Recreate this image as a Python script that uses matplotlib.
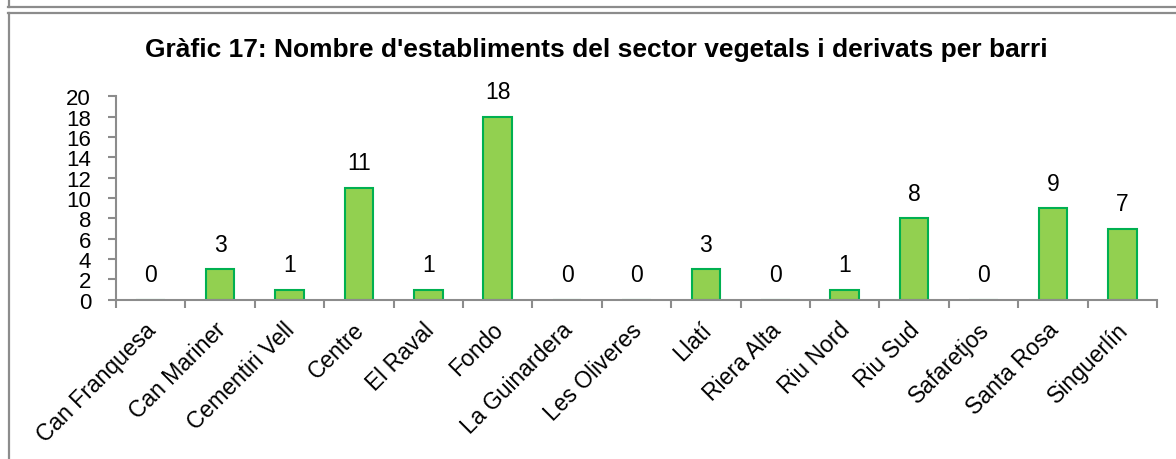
import matplotlib
matplotlib.use("Agg")
import matplotlib.pyplot as plt
from matplotlib.lines import Line2D
import numpy as np

categories = ["Can Franquesa", "Can Mariner", "Cementiri Vell", "Centre", "El Raval",
              "Fondo", "La Guinardera", "Les Oliveres", "Llatí", "Riera Alta",
              "Riu Nord", "Riu Sud", "Safaretjos", "Santa Rosa", "Singuerlín"]
values = [0, 3, 1, 11, 1, 18, 0, 0, 3, 0, 1, 8, 0, 9, 7]
yticks = [0, 2, 4, 6, 8, 10, 12, 14, 16, 18, 20]
title = "Gràfic 17: Nombre d'establiments del sector vegetals i derivats per barri"

plt.rcParams['font.family'] = ['Liberation Sans', 'DejaVu Sans']

W, H = 1176, 460
fig = plt.figure(figsize=(W / 100, H / 100), dpi=100)

# frame lines
gray = "#8c8c8c"
def hline(y, x0, x1):
    fig.add_artist(Line2D([x0 / W, x1 / W], [1 - y / H, 1 - y / H], color=gray, lw=1.6))
def vline(x, y0, y1):
    fig.add_artist(Line2D([x / W, x / W], [1 - y0 / H, 1 - y1 / H], color=gray, lw=1.6))
hline(8, 8, W)
vline(8.5, 0, 8)
hline(13.5, 8, W)
vline(8.5, 13.5, H)

ax = fig.add_axes([116 / W, 1 - 300.7 / H, (1157 - 116) / W, (300.7 - 97.3) / H])
x = np.arange(len(categories))
ax.bar(x, values, width=0.41, color="#92D050", edgecolor="#00B050", linewidth=1.5, zorder=2)

FS = 16.5
for xi, v in zip(x, values):
    ax.annotate(str(v), (xi, v), xytext=(0, 18), textcoords="offset points",
                ha="center", va="center", fontsize=FS, color="black")

ax.set_xlim(-0.5, len(categories) - 0.5)
ax.set_ylim(0, 20)
ax.set_yticks(yticks)
ax.set_yticklabels([str(t) for t in yticks], fontsize=16)
ax.set_xticks(np.arange(-0.5, len(categories)), minor=False)
ax.set_xticklabels([])
# label anchors nudged slightly left of bar centres (ticks themselves are invisible)
ax.set_xticks(x - 0.09, minor=True)
ax.set_xticklabels(categories, minor=True, rotation=45, ha="right",
                   rotation_mode="anchor", fontsize=FS)
ax.tick_params(axis="x", which="minor", length=0, pad=13)
ax.tick_params(axis="x", which="major", length=6, width=1.5, color=gray)
ax.tick_params(axis="y", length=6, width=1.5, color=gray, pad=12)

for s in ["top", "right"]:
    ax.spines[s].set_visible(False)
for s in ["left", "bottom"]:
    ax.spines[s].set_color(gray)
    ax.spines[s].set_linewidth(1.5)
    ax.spines[s].set_zorder(3)

fig.text(596 / W, 1 - 50 / H, title, ha="center", va="center",
         fontsize=19, fontweight="bold")

fig.savefig("out.png", dpi=100)
